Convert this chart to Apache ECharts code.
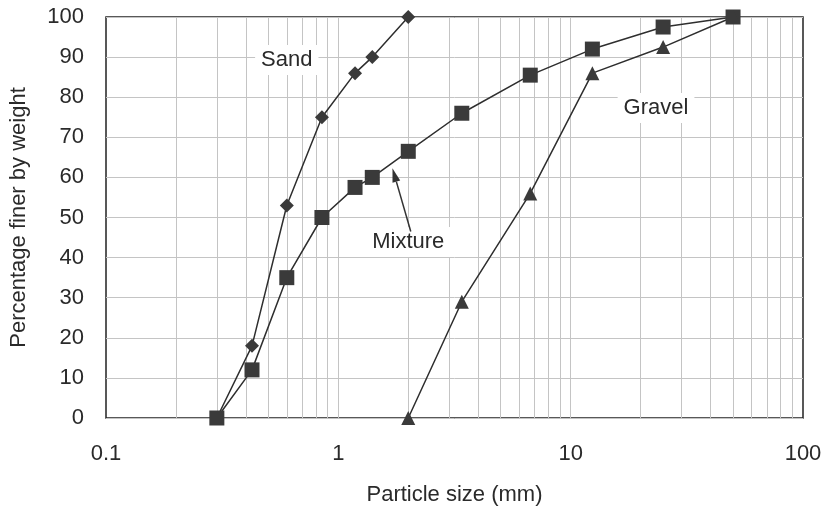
<!DOCTYPE html>
<html>
<head>
<meta charset="utf-8">
<script src="https://cdn.jsdelivr.net/npm/echarts@6/dist/echarts.min.js"></script>
<style>html,body{margin:0;padding:0;background:#fff}#c{width:825px;height:511px}</style>
</head>
<body>
<div id="c"></div>
<script>
var sandSize = [0.3, 0.425, 0.6, 0.85, 1.18, 1.4, 2.0];
var sandPct = [0, 18, 53, 75, 86, 90, 100];
var mixSize = [0.3, 0.425, 0.6, 0.85, 1.18, 1.4, 2.0, 3.4, 6.7, 12.4, 25, 50];
var mixPct = [0, 12, 35, 50, 57.5, 60, 66.5, 76, 85.5, 92, 97.5, 100];
var gravelSize = [2.0, 3.4, 6.7, 12.4, 25, 50];
var gravelPct = [0, 29, 56, 86, 92.5, 100];
var yTicks = [0, 10, 20, 30, 40, 50, 60, 70, 80, 90, 100];
var xMinorGrid = [0.2,0.3,0.4,0.5,0.6,0.7,0.8,0.9,1,2,3,4,5,6,7,8,9,10,20,30,40,50,60,70,80,90];
var labels = [
  {text: 'Sand', x: 0.6, y: 89.3},
  {text: 'Gravel', x: 23.3, y: 77.3},
  {text: 'Mixture', x: 2.0, y: 43.9}
];
var arrowFrom = [2.05, 46.5];
var arrowTo = [1.71, 62.3];

function pairs(xs, ys) { return xs.map(function (x, i) { return [x, ys[i]]; }); }

var FONT = 'Liberation Sans, Arial, sans-serif';
var chart = echarts.init(document.getElementById('c'));
var lineCol = '#2e2e2e';
var markCol = '#3a3a3a';
var textCol = '#2a2a2a';
chart.setOption({
  animation: false,
  grid: {left: 105, right: 22, top: 17, bottom: 93, show: true, borderColor: '#222', borderWidth: 1.5, backgroundColor: 'transparent'},
  xAxis: {
    type: 'log', logBase: 10, min: 0.1, max: 100,
    name: 'Particle size (mm)', nameLocation: 'middle', nameGap: 66,
    nameTextStyle: {fontFamily: FONT, fontSize: 22, color: textCol},
    axisLine: {show: false}, axisTick: {show: false},
    axisLabel: {fontFamily: FONT, fontSize: 22, color: textCol, margin: 25},
    splitLine: {show: false}
  },
  yAxis: {
    type: 'value', min: 0, max: 100, interval: 10,
    name: 'Percentage finer by weight', nameLocation: 'middle', nameGap: 76,
    nameTextStyle: {fontFamily: FONT, fontSize: 22, color: textCol},
    axisLine: {show: false}, axisTick: {show: false},
    axisLabel: {fontFamily: FONT, fontSize: 22, color: textCol, margin: 22},
    splitLine: {show: true, lineStyle: {color: '#c4c4c4', width: 1}}
  },
  series: [
    {
      name: 'Sand', type: 'line', data: pairs(sandSize, sandPct),
      symbol: 'diamond', symbolSize: 14,
      lineStyle: {color: lineCol, width: 1.5}, itemStyle: {color: markCol},
      z: 3,
      markLine: {
        silent: true, symbol: ['none', 'none'], label: {show: false},
        lineStyle: {color: '#c4c4c4', width: 1, type: 'solid'},
        data: xMinorGrid.map(function (v) { return {xAxis: v}; }),
        z: 1
      }
    },
    {
      name: 'Mixture', type: 'line', data: pairs(mixSize, mixPct),
      symbol: 'rect', symbolSize: 15,
      lineStyle: {color: lineCol, width: 1.5}, itemStyle: {color: markCol}, z: 3
    },
    {
      name: 'Gravel', type: 'line', data: pairs(gravelSize, gravelPct),
      symbol: 'triangle', symbolSize: 14,
      lineStyle: {color: lineCol, width: 1.5}, itemStyle: {color: markCol}, z: 3
    }
  ]
});

var gr = [];
labels.forEach(function (l) {
  var p = chart.convertToPixel({gridIndex: 0}, [l.x, l.y]);
  gr.push({
    type: 'text', x: p[0], y: p[1], z: 2,
    style: {text: l.text, fontFamily: FONT, fontSize: 22, fill: textCol, align: 'center', verticalAlign: 'middle',
      backgroundColor: '#fff', padding: [4, 6]}
  });
});
var a = chart.convertToPixel({gridIndex: 0}, arrowFrom);
var b = chart.convertToPixel({gridIndex: 0}, arrowTo);
var dx = b[0] - a[0], dy = b[1] - a[1];
var len = Math.sqrt(dx * dx + dy * dy), ux = dx / len, uy = dy / len;
var hl = 14, hw = 4;
var base = [b[0] - ux * hl, b[1] - uy * hl];
gr.push({type: 'line', z: 5, shape: {x1: a[0], y1: a[1], x2: base[0], y2: base[1]}, style: {stroke: '#333', lineWidth: 1.5}});
gr.push({type: 'polygon', z: 5, shape: {points: [b, [base[0] - uy * hw, base[1] + ux * hw], [base[0] + uy * hw, base[1] - ux * hw]]}, style: {fill: '#333'}});
chart.setOption({graphic: gr});
</script>
</body>
</html>
